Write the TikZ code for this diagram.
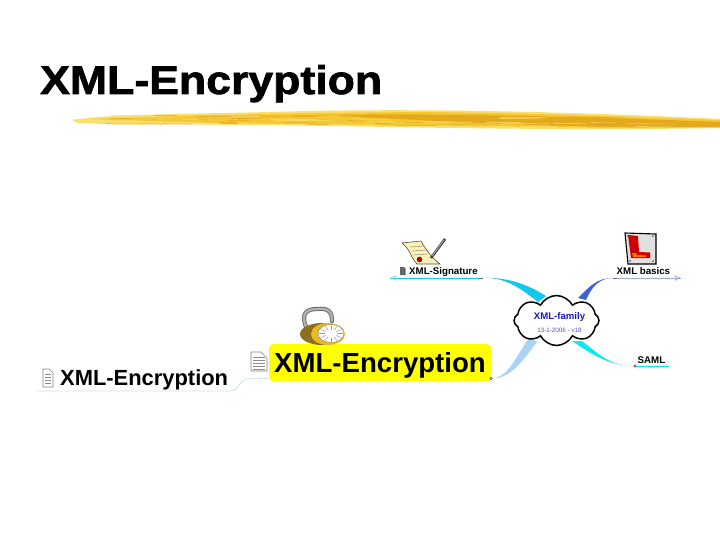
\documentclass[tikz,border=0pt]{standalone}
\usepackage{fontspec}
\setmainfont{Liberation Sans}
\newfontfamily\titlefont[BoldFeatures={FakeBold=1.6}]{Liberation Sans}
\usepackage{xcolor}
\usetikzlibrary{arrows.meta, positioning, calc, shapes.symbols}
\definecolor{brushgold}{RGB}{245,200,50}
\definecolor{brushdeep}{RGB}{228,168,28}
\definecolor{brushpale}{RGB}{250,222,110}
\definecolor{linkcyan}{RGB}{20,200,235}
\definecolor{linkaqua}{RGB}{10,235,240}
\definecolor{linkblue}{RGB}{60,95,220}
\definecolor{linksky}{RGB}{170,210,245}
\definecolor{linkpale}{RGB}{205,228,242}
\definecolor{linkmauve}{RGB}{150,175,225}
\definecolor{hiyellow}{RGB}{255,255,0}
\definecolor{familyblue}{RGB}{25,25,190}
\definecolor{lockgold}{RGB}{222,170,40}
\definecolor{paperyellow}{RGB}{252,240,180}
\tikzset{
  topic/.style={inner sep=0pt, font=\bfseries\fontsize{9.7}{11}\selectfont, text=black, anchor=base west},
  bigtopic/.style={inner sep=0pt, font=\bfseries\fontsize{27.6}{30}\selectfont, text=black, anchor=base west},
  doclines/.style={line width=0.5pt, draw=black!45},
  docpage/.style={draw=black!50, fill=white, line width=0.6pt},
  twig/.style={line width=0.9pt},
  endmark/.style={draw=black!70, fill=white, line width=0.4pt, circle, inner sep=0pt, minimum size=2.5pt},
  openarrow/.style={-{Latex[open, length=6pt, width=6pt]}, line width=0.7pt},
}
\begin{document}
\begin{tikzpicture}[x=1pt, y=-1pt]
\useasboundingbox (0,0) rectangle (720,540);
% title
\node (title) [inner sep=0pt, anchor=base west, font=\titlefont\bfseries\fontsize{40}{44}\selectfont, xscale=1.115] at (40,94) {XML-Encryption};
% brush stroke
\fill[brushpale] (72,120) .. controls (110,114) and (190,114) .. (270,112) .. controls (400,108) and (560,111) .. (720,119) -- (720,128) .. controls (560,131) and (400,127) .. (270,125) .. controls (190,124) and (120,125) .. (78,123) -- cycle;
\fill[brushgold] (90,119) .. controls (200,115) and (300,113) .. (420,112) .. controls (530,113) and (630,117) .. (720,120) -- (720,127) .. controls (600,129) and (480,126) .. (400,125) .. controls (300,124) and (180,123) .. (90,119) -- cycle;
\fill[brushdeep] (330,115) .. controls (430,113) and (560,116) .. (720,122) -- (720,127) .. controls (600,128) and (470,124) .. (330,115) -- cycle;
\pgfmathsetseed{41}
\foreach \i in {1,...,70} {
  \pgfmathsetmacro{\bx}{90+rnd*600}
  \pgfmathsetmacro{\by}{114+(\bx-90)*0.006+rnd*10}
  \pgfmathsetmacro{\bl}{15+rnd*45}
  \pgfmathsetmacro{\bt}{int(rnd*2)}
  \ifnum\bt=0 \def\bc{brushpale}\fi
  \ifnum\bt=1 \def\bc{brushdeep}\fi
  \draw[\bc, line width=0.5pt] (\bx,\by) -- ++(\bl,0.3);
}
% branch ends
\coordinate (sigroot) at (538,302);
\coordinate (basicsroot) at (586,300);
\coordinate (samlroot) at (582,341);
\coordinate (encroot) at (537,342);
\coordinate (sigtip) at (390,278);
\coordinate (sigknee) at (483,278);
\coordinate (basicstip) at (681,278);
\coordinate (basicsknee) at (613,278);
\coordinate (samlknee) at (635,366);
\coordinate (samlend) at (669,366);
\coordinate (mainknee) at (491,378.5);
\coordinate (mainleft) at (268,378.5);
\coordinate (leftend) at (37,391);
\coordinate (leftknee) at (230,391);
% connectors
\draw[draw=linkcyan, twig] (sigknee) -- (sigtip);
\draw[draw=linkmauve, twig] (basicsknee) -- (basicstip);
\draw[draw=linkaqua, twig] (samlknee) -- (samlend);
\draw[draw=linkpale, twig] (leftend) -- (leftknee) .. controls (240,391) and (238,378.5) .. (250,378.5) -- (mainleft);
\draw[draw=black!60, line width=0.7pt] (479,278) -- (sigknee);
\draw[draw=black!60, line width=0.7pt] (basicsknee) -- (617,278);
\draw[draw=linkcyan!60, openarrow] ($(sigtip)+(6,0)$) -- (sigtip);
\draw[draw=linkmauve, openarrow] ($(basicstip)-(6,0)$) -- (basicstip);
\fill[linkcyan] (sigknee) .. controls (505,277) and (520,288) .. (sigroot) -- ++(8,-6) .. controls (527,284) and (507,277) .. (sigknee) -- cycle;
\fill[linkblue] (basicsknee) .. controls (600,278) and (592,286) .. (basicsroot) -- ++(-8,-2) .. controls (590,286) and (597,278) .. (basicsknee) -- cycle;
\fill[linkaqua] (samlknee) .. controls (610,366) and (600,355) .. (samlroot) -- ++(-10,0) .. controls (590,353) and (608,366) .. (samlknee) -- cycle;
\fill[linksky] (mainknee) .. controls (510,379) and (522,362) .. (encroot) -- ++(-8,-4) .. controls (515,358) and (508,378) .. (mainknee) -- cycle;
% central cloud
\node (family) [cloud, cloud puffs=8, cloud puff arc=125, aspect=1.7, draw=black, fill=white, line width=1.5pt, minimum width=85pt, minimum height=50pt, inner sep=0pt] at (556.5,320.5) {};
\node (familytext) [inner sep=0pt, font=\bfseries\fontsize{9.6}{11}\selectfont, text=familyblue] at (559.5,317.5) {XML-family};
\node (familydate) [inner sep=0pt, font=\fontsize{6.3}{8}\selectfont, text=familyblue!75, below=6pt of familytext] {13-1-2006 - v18};
% topics
\node (signature) [topic] at (409,274.5) {XML-Signature};
\node (basics) [topic] at (616.5,274.5) {XML basics};
\node (saml) [topic] at (637.5,363) {SAML};
\node (mainbox) [fill=hiyellow, rounded corners=4pt, minimum width=222pt, minimum height=37pt, inner sep=0pt, anchor=north west] at (269,344) {};
\node (maintext) [bigtopic] at (274,372) {XML-Encryption};
\node (lefttext) [inner sep=0pt, anchor=base west, font=\bfseries\fontsize{21.9}{24}\selectfont] at (60,385) {XML-Encryption};
\node (knobmain) [endmark] at (mainknee) {};
\node (knobsaml) [endmark] at (samlknee) {};
% page icons
\draw[docpage] (43,369) -- (49,369) -- (53,373) -- (53,387) -- (43,387) -- cycle;
\foreach \y in {374,377,380,383} \draw[doclines] (45,\y) -- (51,\y);
\draw[docpage] (251,352) -- (261,352) -- (267,358) -- (267,371) -- (251,371) -- cycle;
\foreach \y in {357,360,363,366,369} \draw[doclines] (253,\y) -- (265,\y);
\fill[black!60] (400,267) -- (404,267) -- (405.5,268.5) -- (405.5,275) -- (400,275) -- cycle;
% padlock icon
\draw[black!60, line width=4.2pt, line cap=round] (306,327) .. controls (301,314) and (306,309) .. (317,309) .. controls (328,308) and (332,311) .. (332,321);
\draw[black!30, line width=2.4pt, line cap=round] (306,327) .. controls (301,314) and (306,309) .. (317,309) .. controls (328,308) and (332,311) .. (332,321);
\fill[lockgold!65!black] (322,334) ellipse (22pt and 11pt);
\fill[lockgold!80!yellow] (328,334) ellipse (17pt and 11pt);
\fill[white, draw=black!50, line width=0.4pt] (331,333.5) ellipse (13pt and 9pt);
\foreach \a in {0,30,...,330} \draw[black!40, line width=0.5pt] ($(331,333.5)+(\a:6pt and 4pt)$) -- ($(331,333.5)+(\a:12pt and 8pt)$);
% signed paper icon
\draw[black!70, fill=paperyellow, line width=0.6pt] (402,243) -- (421,241) .. controls (426,250) and (432,258) .. (440,264) -- (417,264) .. controls (411,258) and (410,249) .. (402,243) -- cycle;
\foreach \s in {0,1,2} \draw[black!50, line width=0.4pt] (410+\s*2,247+\s*4) -- (424+\s*2,246+\s*4);
\fill[red!70!black] (419.5,259.5) circle (2.8pt);
\draw[black!75, line width=2.6pt] (431,258) -- (445,239);
\draw[black!30, line width=0.8pt] (432,256) -- (444,240);
% learner plate icon
\draw[black, fill=black!12, line width=1.1pt] (625,233) -- (656,234) -- (656,264) -- (628,264) -- cycle;
\fill[red!80!black] (628,235) -- (638,236) -- (639,252) -- (650,252.5) -- (650,258) -- (631,258) -- cycle;
\fill[red!55!yellow] (632,253) -- (636,253) -- (637,255) -- (646,255.5) -- (646,257) -- (633,257) -- cycle;
\foreach \p in {(628,236),(653,236),(630,261),(653,261)} \fill[black!70] \p circle (0.9pt);
\end{tikzpicture}
\end{document}
